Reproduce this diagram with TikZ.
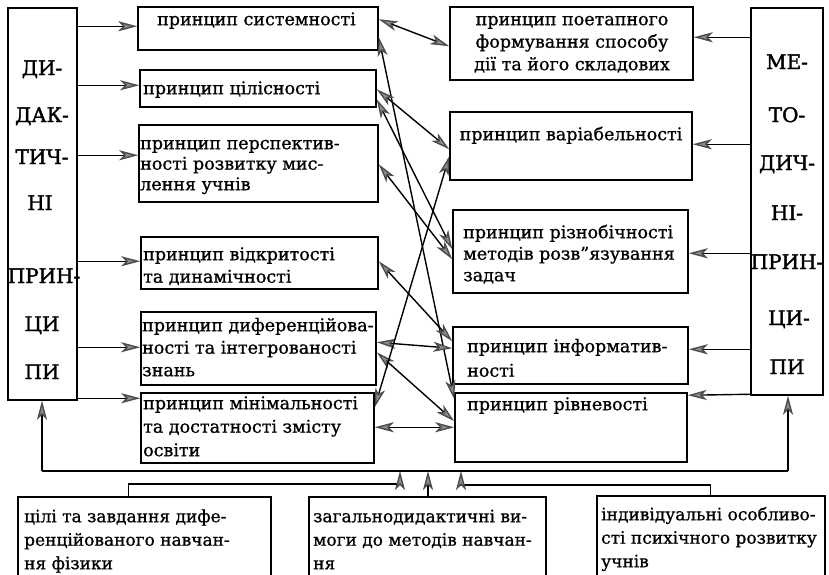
\documentclass[tikz,border=0pt]{standalone}
\usepackage{fontspec}
\setmainfont{DejaVu Serif}[FakeBold=0.9]
\usetikzlibrary{arrows.meta,calc}
\begin{document}
\begin{tikzpicture}[x=1pt,y=-1pt,
  box/.style={draw,line width=1.5pt,inner sep=0pt},
  txt/.style={inner sep=0pt,anchor=north west,align=left,font=\fontsize{17.5}{22.5}\selectfont},
  ctxt/.style={inner sep=0pt,anchor=north,align=center,font=\fontsize{17.5}{22.5}\selectfont},
  btxt/.style={inner sep=0pt,anchor=north west,align=left,font=\fontsize{17}{23.5}\selectfont},
  captxt/.style={inner sep=0pt,anchor=base,font=\fontsize{20}{24}\selectfont\addfontfeature{FakeBold=1.8}},
  con/.style={line width=1.4pt},
  ghd/.tip={Stealth[length=19pt,width=10pt,inset=5pt,fill=black!45,color=black!70]},
  tip/.style={con,-ghd},
  dtip/.style={con,ghd-ghd},
]
\useasboundingbox (0,0) rectangle (829,574);
\clip (0,0) rectangle (829,574);
\fill[white] (0,0) rectangle (829,574);

% side columns
\node[box,minimum width=69pt,minimum height=392pt] (L) at (42.5,204) {};
\node[box,minimum width=72pt,minimum height=387pt] (R) at (787,201.5) {};

% left boxes
\node[box,minimum width=240pt,minimum height=43pt] (A1) at (258,28.5) {};
\node[box,minimum width=236pt,minimum height=37pt] (A2) at (258,88.5) {};
\node[box,minimum width=239pt,minimum height=77pt] (A3) at (258.5,163.5) {};
\node[box,minimum width=237pt,minimum height=52pt] (A4) at (259.5,263) {};
\node[box,minimum width=235pt,minimum height=73pt] (A5) at (258.5,348.5) {};
\node[box,minimum width=233pt,minimum height=70pt] (A6) at (257.5,428) {};

% right boxes
\node[box,minimum width=243pt,minimum height=73pt] (B1) at (571.5,43.5) {};
\node[box,minimum width=242pt,minimum height=68pt] (B2) at (571,146) {};
\node[box,minimum width=235pt,minimum height=83pt] (B3) at (570.5,251.5) {};
\node[box,minimum width=235pt,minimum height=57pt] (B4) at (570.5,355.5) {};
\node[box,minimum width=232pt,minimum height=69pt] (B5) at (571,427.5) {};

% bottom boxes
\node[box,minimum width=253pt,minimum height=93pt] (C1) at (144.5,543.5) {};
\node[box,minimum width=237pt,minimum height=93pt] (C2) at (427.5,543.5) {};
\node[box,minimum width=228pt,minimum height=94pt] (C3) at (711,543) {};

% column texts
\node[captxt] (l1) at (42,75) {ДИ-};
\node[captxt] (l2) at (42,122) {ДАК-};
\node[captxt] (l3) at (42,164) {ТИЧ-};
\node[captxt] (l4) at (40,210) {НІ};
\node[captxt] (l5) at (44,283) {ПРИН-};
\node[captxt] (l6) at (42,331) {ЦИ};
\node[captxt] (l7) at (42,379) {ПИ};
\node[captxt] (r1) at (787,69) {МЕ-};
\node[captxt] (r2) at (787,122) {ТО-};
\node[captxt] (r3) at (787,170) {ДИЧ-};
\node[captxt] (r4) at (787,220) {НІ-};
\node[captxt] (r5) at (787,269) {ПРИН-};
\node[captxt] (r6) at (789,325) {ЦИ-};
\node[captxt] (r7) at (787,374) {ПИ};

% box texts
\node[txt] (tA1) at (157,9.25) {\strut принцип системності};
\node[txt] (tA2) at (143,78.25) {\strut принцип цілісності};
\node[txt,font=\fontsize{17.5}{20.5}\selectfont] (tA3) at (140,134.65) {\strut принцип перспектив-\\ності розвитку мис-\\лення учнів};
\node[txt] (tA4) at (143,244.25) {\strut принцип відкритості\\та динамічності};
\node[txt] (tA5) at (142,315.25) {\strut принцип диференційова-\\ності та інтегрованості\\знань};
\node[txt,font=\fontsize{17.5}{23.5}\selectfont] (tA6) at (143,392.55) {\strut принцип мінімальності\\та достатності змісту\\освіти};
\node[ctxt] (tB1) at (572,9.25) {\strut принцип поетапного\\формування способу\\дії та його складових};
\node[ctxt] (tB2) at (571,124.25) {\strut принцип варіабельності};
\node[txt,font=\fontsize{17.5}{21.5}\selectfont] (tB3) at (463,222.95) {\strut принцип різнобічності\\методів розв"язування\\задач};
\node[txt,font=\fontsize{17.5}{24.5}\selectfont] (tB4) at (467,334.85) {\strut принцип інформатив-\\ності};
\node[txt] (tB5) at (467,394.25) {\strut принцип рівневості};
\node[btxt] (tC1) at (24,505.55) {\strut цілі та завдання дифе-\\ренційованого навчан-\\ня фізики};
\node[btxt] (tC2) at (313,505.55) {\strut загальнодидактичні ви-\\моги до методів навчан-\\ня};
\node[btxt] (tC3) at (601,503.55) {\strut індивідуальні особливо-\\сті психічного розвитку\\учнів};

% left column arrows
\draw[tip] ($(L.north east)+(0,19)$) -- ($(A1.north west)+(0,20)$);
\draw[tip] ($(L.north east)+(0,78)$) -- ($(A2.north west)+(0,16)$);
\draw[tip] ($(L.north east)+(0,148)$) -- ($(A3.north west)+(0,31)$);
\draw[tip] ($(L.north east)+(0,254)$) -- ($(A4.north west)+(0,25)$);
\draw[tip] ($(L.north east)+(0,340)$) -- ($(A5.north west)+(0,36)$);
\draw[tip] ($(L.north east)+(0,391)$) -- ($(A6.north west)+(0,6)$);

% right column arrows
\draw[tip] ($(R.north west)+(0,30)$) -- ($(B1.north east)+(0,31)$);
\draw[tip] ($(R.north west)+(0,137)$) -- ($(B2.north east)+(0,33)$);
\draw[tip] ($(R.north west)+(0,246)$) -- ($(B3.north east)+(0,44)$);
\draw[tip] ($(R.north west)+(0,342)$) -- ($(B4.north east)+(0,23)$);
\draw[tip] ($(R.north west)+(0,387)$) -- ($(B5.north east)+(0,3)$);

% cross connectors
\draw[dtip] ($(A1.north east)+(0,13)$) -- ($(B1.north west)+(0,40)$);
\draw[dtip] ($(A1.north east)+(0,31)$) -- ($(B5.north west)+(0,7)$);
\draw[dtip] ($(A2.north east)+(0,20)$) -- ($(B2.north west)+(0,38)$);
\draw[dtip] ($(A2.north east)+(0,30)$) -- ($(B3.north west)+(0,40)$);
\draw[dtip] ($(A3.north east)+(0,40)$) -- ($(B3.north west)+(0,50)$);
\draw[dtip] ($(A4.north east)+(0,25)$) -- ($(B4.north west)+(0,15)$);
\draw[dtip] ($(A5.north east)+(0,31)$) -- ($(B4.north west)+(0,22)$);
\draw[dtip] ($(A5.north east)+(0,41)$) -- ($(B5.north west)+(0,29)$);
\draw[dtip] ($(A6.north east)+(0,15)$) -- ($(B2.north west)+(0,45)$);
\draw[dtip] ($(A6.north east)+(0,35)$) -- ($(B5.north west)+(0,35)$);

% feedback
\coordinate (fbL) at (42,471);
\coordinate (fbR) at (788,471);
\coordinate (j1) at (400,471);
\coordinate (j2) at (428,471);
\coordinate (j3) at (461,471);
\draw[con] (fbL) -- (fbR);
\draw[tip] (fbL) -- (fbL |- L.south);
\draw[tip] (fbR) -- (fbR |- R.south);
\draw[tip] ($(C1.north west)+(111,0)$) |- (400,484) -- (j1);
\draw[tip] (C2.north -| j2) -- (j2);
\draw[tip] ($(C3.north west)+(114,0)$) |- (461,485) -- (j3);
\end{tikzpicture}
\end{document}
